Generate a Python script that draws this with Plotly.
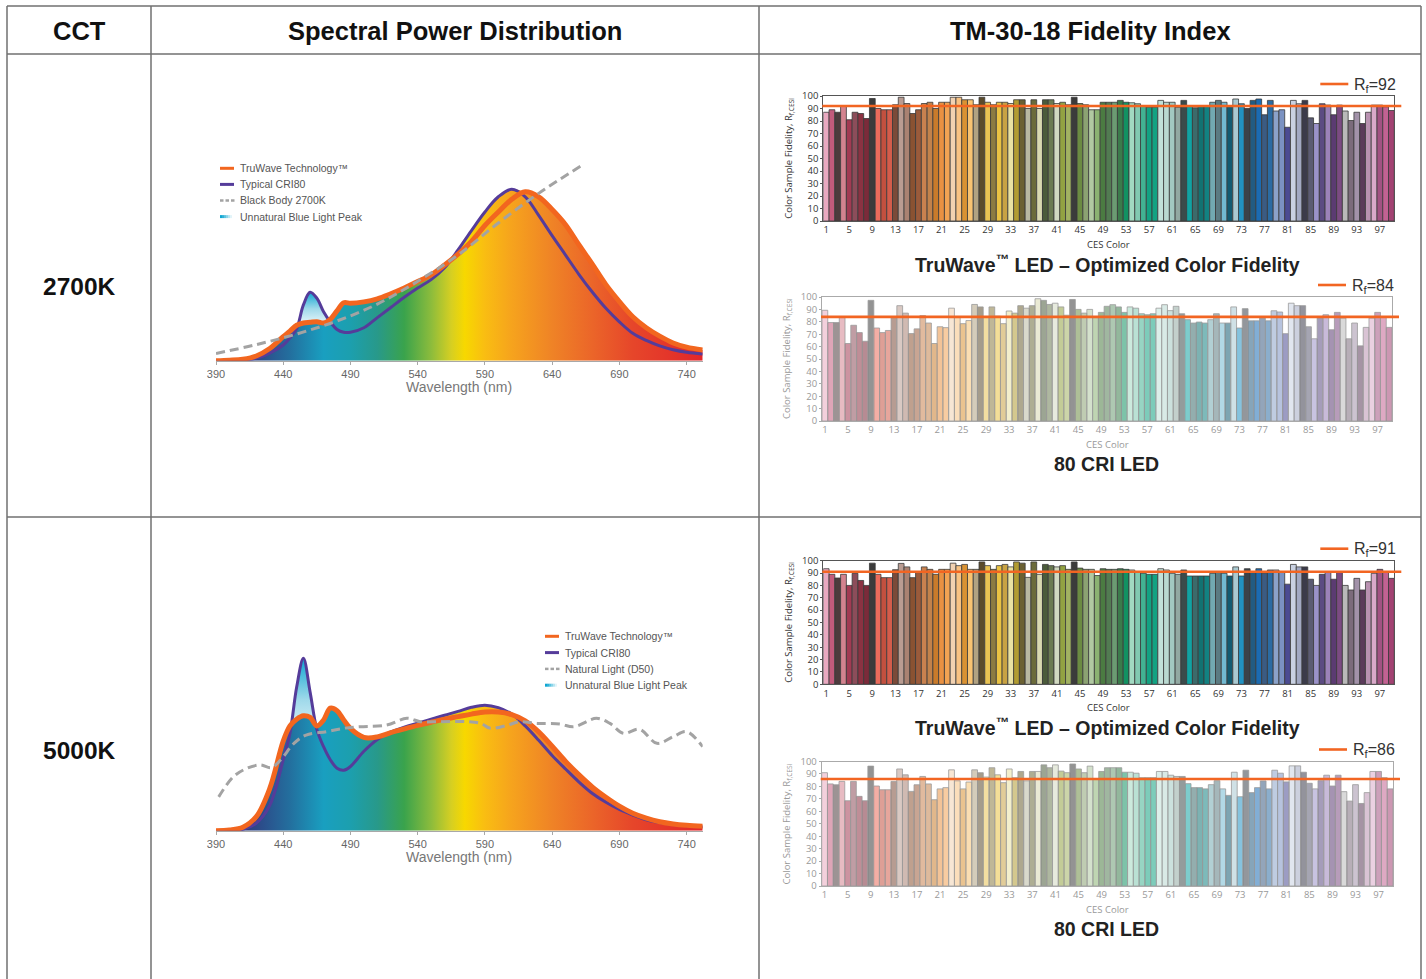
import numpy as np
import plotly.graph_objects as go

W, H = 1426, 979


def px(x):
    return x / W


def py(y):
    return 1 - y / H


# ---------------- Spectral power distribution data (relative power) ----------------
WL = [390, 400, 410, 420, 430, 440, 445, 450, 455, 460, 465, 470, 475, 480, 485, 490,
      500, 510, 520, 530, 540, 550, 560, 570, 580, 590, 600, 610, 620, 630, 640, 650,
      660, 670, 680, 690, 700, 710, 720, 730, 740, 752]

ORANGE_2700 = [0, 0.3, 0.9, 2.8, 7.2, 14.2, 17.5, 21, 22.3, 22.7, 23.1, 22.3, 24.5, 29.5, 34.3, 34,
               34.8, 36.6, 39.6, 43, 46.8, 50.8, 56.6, 63, 70.5, 80, 88, 95.5, 100, 97, 89.5, 80.5,
               68.5, 57, 45, 35, 26, 19.5, 14.5, 10.5, 8, 6.3]
PURPLE_2700 = [0, 0.1, 0.5, 1.5, 4.5, 9.3, 13.5, 19, 33, 40.5, 37, 29, 23, 18.5, 16.8, 16.8,
               19.5, 25.5, 31.5, 37.5, 43, 48, 55, 65.5, 77, 88, 97, 101.4, 97, 86, 74, 62.5,
               51, 40.5, 31, 23, 16.2, 12, 8.8, 6.5, 5, 4]
GRAY_2700_WL = [390, 420, 450, 480, 510, 540, 570, 600, 630, 661]
GRAY_2700 = [4.3, 9.5, 15.8, 23.5, 33.5, 47, 62.5, 81.5, 99, 115]

ORANGE_5000 = [0, 0.4, 2, 8.3, 25, 53, 62, 66, 68, 67, 62, 65.5, 72.5, 71, 65.5, 60.5,
               55.2, 55.5, 58, 60.2, 62.3, 64.2, 66, 67.5, 69, 70.2, 70.2, 68.7, 65, 58.5, 50, 41,
               33, 25.8, 19.8, 14.5, 10.3, 7.4, 5.3, 4, 3.2, 2.6]
PURPLE_5000 = [0, 0.1, 0.8, 4.5, 15, 42, 57.6, 85, 102, 82, 60, 49.7, 42, 37, 35.8, 38,
               47, 54, 58.5, 61.2, 63.6, 66, 68.3, 70.6, 73, 74.3, 72.8, 69, 62, 53.5, 44.5, 36.5,
               28.8, 22, 16.8, 12.6, 9.3, 6.5, 4.8, 3.7, 3, 2.4]
GRAY_5000_WL = [392, 403, 413, 423, 431, 438, 448, 457, 472, 485, 497, 517, 532, 542, 557, 577,
                587, 594, 607, 616, 629, 646, 656, 673, 683, 693, 705, 718, 730, 740, 752]
GRAY_5000 = [20, 32, 36.9, 38.9, 37.3, 41.8, 51.7, 56.6, 58.6, 60.6, 61.5, 62.5, 66.5, 64.5, 64.5, 64.5,
             63.5, 60.6, 62.5, 64.5, 63.5, 63.1, 61.5, 66.5, 63.5, 57.6, 60, 51.7, 55.6, 58.6, 49.7]

PEAK_2700 = (450, 480)
PEAK_5000 = (440, 470)
SPD_TICKS = [390, 440, 490, 540, 590, 640, 690, 740]

RAINBOW_NM = [390, 420, 445, 470, 490, 510, 530, 550, 565, 575, 590, 610, 640, 670, 700, 752]
RAINBOW_COL = ["#2b2d6e", "#2d4787", "#236f9e", "#199fc0", "#1c9fae", "#28998a", "#3aa34c",
               "#8cbc3c", "#d6cf22", "#f7d800", "#f9bd12", "#f6a31d", "#ef8326", "#eb6529",
               "#e6462a", "#e2262a"]

LEGEND_2700 = ["TruWave Technology™", "Typical CRI80", "Black Body 2700K", "Unnatural Blue Light Peak"]
LEGEND_5000 = ["TruWave Technology™", "Typical CRI80", "Natural Light (D50)", "Unnatural Blue Light Peak"]

# ---------------- TM-30 data ----------------
CES = list(range(1, 100))
CES_TICKS = list(range(1, 98, 4))

CES_COLORS = [
    "#e9a9c0", "#c25b7c", "#4d3b3d", "#d3838f", "#a23a52", "#8c4d5a", "#8b3242", "#7b2b3a", "#3b3b3b", "#ea6b5b",
    "#c2503f", "#d35c4b", "#7b4a39", "#b99c92", "#a98272", "#8a5232", "#9b5b3b", "#c8814f", "#c2824b", "#c97b2b",
    "#e99142", "#f2a353", "#f1d1b1", "#f8c283", "#d99233", "#f8c372", "#b1a282", "#5b4b2b", "#e9c353", "#8b7b42",
    "#e9c243", "#c8a243", "#e9e1a2", "#b19b32", "#6b6133", "#b9b9a2", "#6b6b3b", "#d9d9b1", "#4b5b3b", "#6b7b52",
    "#d1d9c1", "#92a242", "#a2b262", "#3b3b3b", "#6b8b42", "#8ba272", "#b1c9a2", "#8bb272", "#4b7b42", "#527b52",
    "#6b9b72", "#3b7b4b", "#129262", "#a2d9c1", "#82c9b1", "#42b292", "#12a282", "#12a282", "#c1e1d9", "#b9d9d1",
    "#a2c9c1", "#92a9a2", "#3b4b4b", "#12a2a2", "#3b6b6b", "#127272", "#128282", "#72a9b1", "#5b7b82", "#72b9d1",
    "#125b72", "#a9c9d1", "#2292c2", "#3b424a", "#225b82", "#1b6bb2", "#3b5b82", "#2b6ba2", "#8ba2c9", "#7b92c2",
    "#4b4b92", "#c9d1e1", "#a2a9c2", "#3b3b4a", "#5b5b72", "#9b92c9", "#5b4b82", "#9b82b9", "#5b3b72", "#7b4b82",
    "#b9b9b9", "#7b6b7b", "#a292a9", "#5b3b5a", "#b992b1", "#d9a9c9", "#a25282", "#c26292", "#a24272",
]

TRUWAVE_2700 = [87, 89, 87, 92, 81, 87, 86, 82, 98, 90,
                89, 89, 93, 99, 94, 86, 89, 94, 95, 90,
                95, 95, 99, 99, 97, 97, 93, 99, 95, 93,
                95, 95, 94, 97, 97, 90, 97, 90, 97, 97,
                94, 95, 93, 99, 94, 93, 89, 89, 95, 95,
                95, 96.5, 95, 94.6, 93.8, 92, 91, 91, 96.5, 95,
                95, 91, 96.5, 92, 90.6, 92, 92, 95, 96.5, 95,
                92, 97.6, 93.8, 90, 96.5, 97.6, 85, 96.5, 88, 89,
                75, 96.5, 93.8, 96.5, 82.5, 78, 93.8, 92.7, 85, 92.7,
                88, 80.4, 87, 78, 87, 92.7, 92.7, 91.4, 88.4]
CRI80_2700 = [89.3, 79.4, 79.4, 83.4, 62.5, 77.2, 71.3, 64.3, 97.3, 75,
              71.3, 73, 83.4, 93, 87, 70.5, 74.3, 85, 79, 62.5,
              76, 75.3, 91, 83.4, 78.5, 81, 94, 92, 84, 92,
              84.5, 78.5, 88.7, 87, 93, 91, 93, 98.6, 97.3, 94,
              95, 92, 85.3, 98, 90, 87, 90, 83.4, 87.6, 92.5,
              93.8, 92, 87.6, 92, 91, 86.5, 85.7, 86.5, 91, 93.8,
              89, 92.5, 86.5, 81.7, 79, 79.8, 79, 81.7, 86.5, 79,
              79, 92, 75, 90.6, 80.8, 80.8, 83, 80.8, 88.9, 87.9,
              70.4, 95, 93, 93, 76, 66.3, 83, 85.7, 73.6, 87.6,
              83, 66.3, 79, 60.6, 75.5, 83, 87.6, 83.8, 75.5]
TRUWAVE_5000 = [93.5, 89, 86, 89, 80, 89.8, 84, 80, 98, 89,
                86.3, 86.3, 92.7, 97.8, 95, 86.3, 90.6, 95, 93, 89,
                93, 93, 98, 96, 97, 93, 93, 99, 96, 93,
                96, 97, 95, 99, 98, 86.5, 99, 89, 97, 96,
                95, 96, 93, 99, 94, 93, 93, 88, 93.5, 93,
                93, 93.5, 93, 92.5, 90.6, 89.8, 89, 89, 93.5, 92.5,
                89.8, 89, 92.5, 87.6, 87.6, 87.6, 87.6, 89.8, 90.6, 89.8,
                87.6, 95, 87.6, 93.5, 90.6, 93.5, 89.8, 92.5, 92.5, 90.6,
                81, 97, 95, 95, 85, 80, 89, 90.6, 85, 90.6,
                80, 76.3, 85.7, 76.3, 83, 89.8, 93, 90.6, 85.7]
CRI80_5000 = [91, 82, 81.3, 84, 68.5, 84, 72, 68.5, 96.3, 80.3,
              77.3, 77.3, 84, 94, 89.3, 76, 81.3, 88, 82, 69.3,
              78, 79, 93.3, 84.5, 78, 83.5, 93.3, 91, 87.5, 95,
              89.3, 83, 94, 87, 92, 84.5, 92, 92, 97.3, 95,
              97.3, 92.3, 91, 98, 94, 91, 96.3, 86, 92, 95,
              95, 95, 91.4, 91.4, 90.6, 87, 87, 87, 92, 92,
              89, 88, 88, 82.2, 79, 79, 78, 81.4, 84.6, 78,
              72.8, 91.4, 71.7, 93, 75, 79, 84.4, 78, 93, 90.6,
              83.6, 96.5, 96.5, 91.4, 82.5, 78, 84.6, 89, 80.3, 89,
              75.8, 68.2, 81.4, 66.3, 75, 92, 92, 87, 78]
RF_VALUES = [92, 84, 91, 86]
BAR_TITLES = ["TruWave<sup>™</sup> LED – Optimized Color Fidelity", "80 CRI LED",
              "TruWave<sup>™</sup> LED – Optimized Color Fidelity", "80 CRI LED"]

HEADERS = ["CCT", "Spectral Power Distribution", "TM-30-18 Fidelity Index"]
ROW_LABELS = ["2700K", "5000K"]

# ---------------- styles ----------------
FONT = "Liberation Sans, Arial, sans-serif"
SMALL_FONT = "Open Sans, Liberation Sans, sans-serif"
ORANGE = "#f2661f"
PURPLE = "#553c9a"
GRAYL = "#a3a3a3"
RF_ORANGE = "#f26522"

fig = go.Figure()
shapes = []
annotations = []

rainbow_scale = [[(nm - RAINBOW_NM[0]) / (RAINBOW_NM[-1] - RAINBOW_NM[0]), c]
                 for nm, c in zip(RAINBOW_NM, RAINBOW_COL)]


def spd_panel(idx, orange, purple, gwl, gray, peak, baseline_y, legend_labels, legend_pos):
    xa = "x" if idx == 1 else f"x{idx}"
    ya = "y" if idx == 1 else f"y{idx}"
    wl = np.array(WL, dtype=float)
    o = np.array(orange, dtype=float)
    p = np.array(purple, dtype=float)
    top = np.maximum(o, p)
    in_peak = (wl >= peak[0]) & (wl <= peak[1])
    rain_top = np.where(in_peak, o, top)
    common = dict(xaxis=xa, yaxis=ya, hoverinfo="skip", showlegend=False)
    fig.add_trace(go.Scatter(x=wl, y=rain_top, mode="lines", line=dict(width=0, shape="spline"),
                             fill="tozeroy",
                             fillgradient=dict(type="horizontal", colorscale=rainbow_scale,
                                               start=RAINBOW_NM[0], stop=RAINBOW_NM[-1]),
                             **common))
    fig.add_trace(go.Scatter(x=wl[in_peak], y=o[in_peak], mode="lines",
                             line=dict(width=0, shape="spline"), **common))
    fig.add_trace(go.Scatter(x=wl[in_peak], y=top[in_peak], mode="lines",
                             line=dict(width=0, shape="spline"), fill="tonexty",
                             fillgradient=dict(type="vertical",
                                               colorscale=[[0, "#eef9fc"], [0.5, "#9fd9ea"], [1, "#0fa6d2"]],
                                               start=float(o[in_peak].min()),
                                               stop=float(top[in_peak].max())),
                             **common))
    fig.add_trace(go.Scatter(x=wl, y=p, mode="lines", line=dict(color=PURPLE, width=3, shape="spline"),
                             **common))
    fig.add_trace(go.Scatter(x=wl, y=o, mode="lines", line=dict(color=ORANGE, width=5, shape="spline"),
                             **common))
    fig.add_trace(go.Scatter(x=gwl, y=gray, mode="lines",
                             line=dict(color=GRAYL, width=3, dash="9px,5px", shape="spline"),
                             **common))
    annotations.append(dict(text="Wavelength (nm)", x=px(459), y=py(baseline_y + 26), xref="paper",
                            yref="paper", showarrow=False, font=dict(family=FONT, size=14, color="#777"),
                            xanchor="center", yanchor="middle"))
    lx, ly, step = legend_pos
    for k, lab in enumerate(legend_labels):
        yy = py(ly + k * step)
        if k == 0:
            shapes.append(dict(type="line", xref="paper", yref="paper", x0=px(lx), x1=px(lx + 14),
                               y0=yy, y1=yy, line=dict(color=ORANGE, width=3)))
        elif k == 1:
            shapes.append(dict(type="line", xref="paper", yref="paper", x0=px(lx), x1=px(lx + 14),
                               y0=yy, y1=yy, line=dict(color=PURPLE, width=3)))
        elif k == 2:
            for s in range(3):
                shapes.append(dict(type="line", xref="paper", yref="paper", x0=px(lx + s * 5.5),
                                   x1=px(lx + s * 5.5 + 3.5), y0=yy, y1=yy,
                                   line=dict(color=GRAYL, width=2.5)))
        else:
            grad = ["#0fa6d2", "#2fb2d8", "#5cc3e0", "#8ad4e9", "#b7e5f1", "#e2f4f9", "#ffffff"]
            for s, c in enumerate(grad):
                shapes.append(dict(type="line", xref="paper", yref="paper", x0=px(lx + s * 2),
                                   x1=px(lx + s * 2 + 2.2), y0=yy, y1=yy, line=dict(color=c, width=3)))
        annotations.append(dict(text=lab, x=px(lx + 18), y=yy, xref="paper", yref="paper",
                                showarrow=False, xanchor="left", yanchor="middle",
                                font=dict(family=FONT, size=10.5, color="#555")))


spd_panel(1, ORANGE_2700, PURPLE_2700, GRAY_2700_WL, GRAY_2700, PEAK_2700, 360.7, LEGEND_2700,
          (220, 168.3, 16.1))
spd_panel(2, ORANGE_5000, PURPLE_5000, GRAY_5000_WL, GRAY_5000, PEAK_5000, 830.7, LEGEND_5000,
          (545, 636.3, 16.3))

layout_axes = {}
for idx, base in [(1, 360.7), (2, 830.7)]:
    xk = "xaxis" if idx == 1 else f"xaxis{idx}"
    yk = "yaxis" if idx == 1 else f"yaxis{idx}"
    layout_axes[xk] = dict(domain=[px(216), px(702.7)], range=[390, 752],
                           anchor="y" if idx == 1 else f"y{idx}",
                           tickvals=SPD_TICKS, showline=True, linecolor="#a8a8a8", linewidth=1,
                           ticks="outside", ticklen=3, tickcolor="#a8a8a8",
                           tickfont=dict(family=FONT, size=11, color="#666"),
                           showgrid=False, zeroline=False, fixedrange=True)
    layout_axes[yk] = dict(domain=[py(base), py(base - 202.8)], range=[0, 120],
                           anchor="x" if idx == 1 else f"x{idx}", visible=False,
                           showgrid=False, zeroline=False, fixedrange=True)


# ---------------- TM-30 bar charts ----------------
def faded(hexcol, a=0.55):
    h = hexcol.lstrip("#")
    r, g, b = int(h[0:2], 16), int(h[2:4], 16), int(h[4:6], 16)
    return f"rgba({r},{g},{b},{a})"


BAR_BOXES = [(823.3, 1394.3, 96, 221), (822, 1392, 297, 421),
             (823.3, 1394.3, 560.7, 684.3), (821.7, 1393, 761.5, 886)]
BAR_DATA = [TRUWAVE_2700, CRI80_2700, TRUWAVE_5000, CRI80_5000]

for i, (vals, box, rf, title) in enumerate(zip(BAR_DATA, BAR_BOXES, RF_VALUES, BAR_TITLES)):
    ax = i + 3
    x0, x1, y0, y1 = box
    saturated = (i % 2 == 0)
    colors = CES_COLORS if saturated else [faded(c) for c in CES_COLORS]
    edge = "#3a3a3a" if saturated else "#9a9a9a"
    txt = "#333" if saturated else "#999"
    frame = "#555" if saturated else "#aaa"
    fig.add_trace(go.Bar(x=CES, y=vals, width=1,
                         marker=dict(color=colors, line=dict(color=edge, width=0.8)),
                         xaxis=f"x{ax}", yaxis=f"y{ax}", showlegend=False, hoverinfo="skip"))
    layout_axes[f"xaxis{ax}"] = dict(domain=[px(x0), px(x1)], range=[0.5, 99.5], anchor=f"y{ax}",
                                     tickvals=CES_TICKS, ticks="", showline=True, linecolor=frame,
                                     linewidth=1, mirror=True, showgrid=False, zeroline=False,
                                     tickfont=dict(family=SMALL_FONT, size=9.5, color=txt),
                                     fixedrange=True)
    layout_axes[f"yaxis{ax}"] = dict(domain=[py(y1), py(y0)], range=[0, 100], anchor=f"x{ax}",
                                     dtick=10, ticks="outside", ticklen=2, tickcolor=frame,
                                     showline=True, linecolor=frame, linewidth=1, mirror=True,
                                     showgrid=False, zeroline=False,
                                     tickfont=dict(family=SMALL_FONT, size=9.5, color=txt),
                                     fixedrange=True)
    shapes.append(dict(type="line", xref="paper", yref=f"y{ax}", x0=px(x0 - 1), x1=px(x1 + 7),
                       y0=rf, y1=rf, line=dict(color=RF_ORANGE, width=2.6), layer="above"))
    shapes.append(dict(type="line", xref="paper", yref="paper", x0=px(x1 - 74), x1=px(x1 - 46),
                       y0=py(y0 - 12), y1=py(y0 - 12), line=dict(color=RF_ORANGE, width=2.6)))
    annotations.append(dict(text=f"R<sub>f</sub>={rf}", x=px(x1 - 42), y=py(y0 - 11), xref="paper",
                            yref="paper", showarrow=False, xanchor="left", yanchor="middle",
                            font=dict(family=FONT, size=16, color="#333")))
    annotations.append(dict(text="Color Sample Fidelity, R<sub>f,CESi</sub>", x=px(x0 - 35),
                            y=py((y0 + y1) / 2), xref="paper", yref="paper", showarrow=False,
                            textangle=-90, xanchor="center", yanchor="middle",
                            font=dict(family=SMALL_FONT, size=9.5, color=txt)))
    annotations.append(dict(text="CES Color", x=px((x0 + x1) / 2), y=py(y1 + 23), xref="paper",
                            yref="paper", showarrow=False, xanchor="center", yanchor="middle",
                            font=dict(family=SMALL_FONT, size=9.5, color=txt)))
    annotations.append(dict(text=f"<b>{title}</b>", x=px((x0 + x1) / 2 - 1), y=py(y1 + 43),
                            xref="paper", yref="paper", showarrow=False, xanchor="center",
                            yanchor="middle", font=dict(family=FONT, size=19.5, color="#222")))

# ---------------- table frame ----------------
LINE = dict(color="#707070", width=1.5)
for (a, b, c, d) in [(7, 6, 1421, 6), (7, 54, 1421, 54), (7, 517, 1421, 517),
                     (7, 6, 7, 979), (151, 6, 151, 979), (759, 6, 759, 979), (1421, 6, 1421, 979)]:
    shapes.append(dict(type="line", xref="paper", yref="paper", x0=px(a), y0=py(b), x1=px(c), y1=py(d),
                       line=LINE))

for text, cx in zip(HEADERS, [79, 455, 1090]):
    annotations.append(dict(text=f"<b>{text}</b>", x=px(cx), y=py(31), xref="paper", yref="paper",
                            showarrow=False, xanchor="center", yanchor="middle",
                            font=dict(family=FONT, size=25.5, color="#111")))
for text, cy in zip(ROW_LABELS, [287, 750]):
    annotations.append(dict(text=f"<b>{text}</b>", x=px(79), y=py(cy), xref="paper", yref="paper",
                            showarrow=False, xanchor="center", yanchor="middle",
                            font=dict(family=FONT, size=24.5, color="#111")))

fig.update_layout(width=W, height=H, autosize=False,
                  margin=dict(l=0, r=0, t=0, b=0, pad=0, autoexpand=False),
                  paper_bgcolor="white", plot_bgcolor="rgba(0,0,0,0)", bargap=0,
                  shapes=shapes, annotations=annotations, showlegend=False, **layout_axes)

fig.write_html("out.html",
               config={"displayModeBar": False, "staticPlot": True},
               post_script="document.body.style.margin='0px';document.body.style.padding='0px';"
                           "document.documentElement.style.margin='0px';")
